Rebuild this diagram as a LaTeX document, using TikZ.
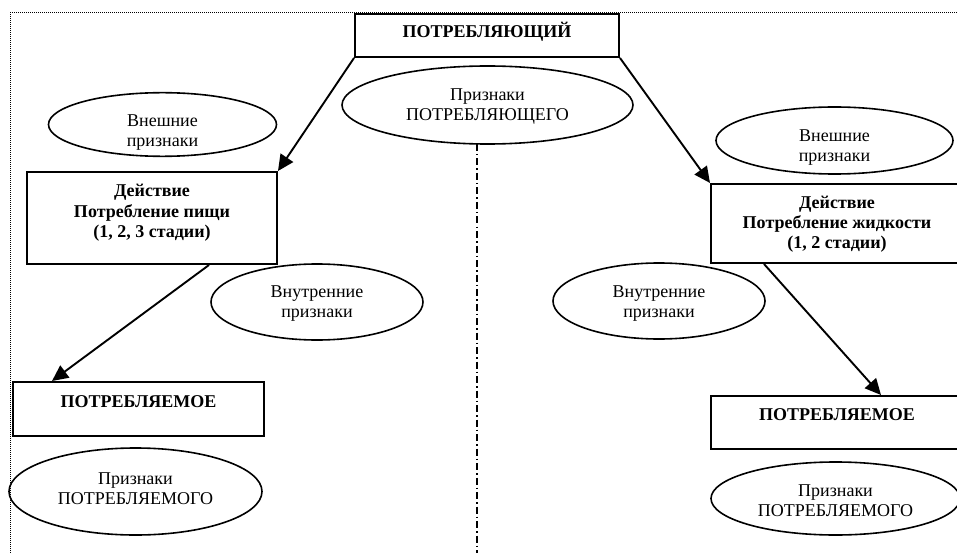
\documentclass[tikz,border=0pt]{standalone}
\usepackage{fontspec}
\setmainfont{Liberation Serif}
\usetikzlibrary{shapes.geometric,arrows.meta,calc}
\begin{document}
\begin{tikzpicture}[x=1pt,y=-1pt,
  every node/.style={font=\fontsize{18}{20}\selectfont},
  box/.style={draw, line width=2pt, rectangle, inner sep=0pt, align=center,
    font=\bfseries\fontsize{18}{20}\selectfont},
  oval/.style={draw, line width=1.6pt, ellipse, inner sep=0pt, align=center},
  arr/.style={line width=1.9pt, -{Triangle[length=16pt,width=15pt]}},
  frame/.style={line width=1pt, dash pattern=on 1pt off 1pt},
  axis/.style={line width=1.6pt, dash pattern=on 7pt off 3pt on 1.5pt off 3pt}
]
\useasboundingbox (0,0) rectangle (957,553);
\coordinate (fa) at (10,553);
\coordinate (fb) at (10,13);
\coordinate (fc) at (957,13);
\draw[frame] (fa) -- (fb) -- (fc);

% boxes
\node[box, minimum width=264pt, text height=24pt, text depth=19pt] (top) at (487,35.5) {ПОТРЕБЛЯЮЩИЙ};
\node[box, minimum width=250pt, text height=65pt, text depth=27pt] (lact) at (152,218) {Действие\\Потребление пищи\\(1, 2, 3 стадии)};
\node[box, minimum width=252pt, text height=64pt, text depth=15pt] (ract) at (837,223.5) {Действие\\Потребление жидкости\\(1, 2 стадии)};
\node[box, minimum width=251pt, text height=25pt, text depth=29pt] (lpot) at (138.5,409) {ПОТРЕБЛЯЕМОЕ};
\node[box, minimum width=252pt, text height=24pt, text depth=29pt] (rpot) at (837,422.5) {ПОТРЕБЛЯЕМОЕ};

% ellipses
\node[oval, minimum width=291pt, minimum height=78pt, text height=40pt, text depth=8pt] (pr) at (487.5,105) {Признаки\\ПОТРЕБЛЯЮЩЕГО};
\node[oval, minimum width=228pt, minimum height=57pt, text height=45pt, text depth=-6pt] (lve) at (162.5,124.5) {Внешние\\признаки};
\node[oval, minimum width=237pt, minimum height=67pt, text height=45pt, text depth=2pt] (rve) at (834.5,140.5) {Внешние\\признаки};
\node[oval, minimum width=212pt, minimum height=76pt, text height=40pt, text depth=10pt] (lvn) at (317,302) {Внутренние\\признаки};
\node[oval, minimum width=212pt, minimum height=76pt, text height=40pt, text depth=8pt] (rvn) at (659,301) {Внутренние\\признаки};
\node[oval, minimum width=253pt, minimum height=87pt, text height=40pt, text depth=15pt] (lpp) at (135.5,491.5) {Признаки\\ПОТРЕБЛЯЕМОГО};
\node[oval, minimum width=249pt, minimum height=73pt, text height=42pt, text depth=7pt] (rpp) at (835.5,498.5) {Признаки\\ПОТРЕБЛЯЕМОГО};

% dash-dot axis
\coordinate (dtop) at (477,144);
\coordinate (dbot) at (477,553);
\draw[axis] (dtop) -- (dbot);

% arrows
\draw[arr] (top.south west) -- (lact.north east);
\draw[arr] (top.south east) -- (ract.north west);
\draw[arr] ($(lact.south west)+(183,0)$) -- ($(lpot.north west)+(40,0)$);
\draw[arr] ($(ract.south west)+(54,0)$) -- ($(rpot.north west)+(171,0)$);
\end{tikzpicture}
\end{document}
